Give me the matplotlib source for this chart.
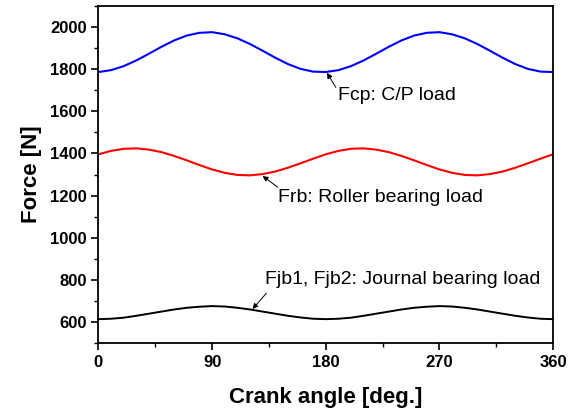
import numpy as np
import matplotlib.pyplot as plt
from matplotlib.ticker import MultipleLocator

plt.rcParams['font.family'] = ['Liberation Sans', 'DejaVu Sans']

# crank angle, every 10 degrees
angle = np.arange(0, 361, 10)

# Fcp: C/P load
f_cp_half = [1786, 1795, 1814, 1841, 1873, 1906, 1936, 1959, 1972, 1975,
             1965, 1946, 1919, 1887, 1854, 1824, 1801, 1788]
f_cp = f_cp_half + f_cp_half + [1786]

# Frb: roller bearing load
f_rb_half = [1396, 1412, 1422, 1424, 1418, 1406, 1388, 1367, 1345, 1324,
             1308, 1298, 1296, 1302, 1314, 1332, 1353, 1375]
f_rb = f_rb_half + f_rb_half + [1396]

# Fjb1, Fjb2: journal bearing load
f_jb_half = [614, 616, 621, 630, 640, 650, 660, 668, 673, 676,
             674, 668, 660, 650, 640, 630, 622, 616]
f_jb = f_jb_half + f_jb_half + [614]

fig = plt.figure(figsize=(5.69, 4.16), dpi=100)
ax = fig.add_axes([0.173, 0.175, 0.799, 0.811])

ax.plot(angle, f_cp, color='blue', lw=1.5)
ax.plot(angle, f_rb, color='red', lw=1.5)
ax.plot(angle, f_jb, color='black', lw=1.4)

ax.set_xlim(0, 360)
ax.set_ylim(500, 2100)
ax.set_xticks([0, 90, 180, 270, 360])
ax.xaxis.set_minor_locator(MultipleLocator(45))
ax.set_yticks(np.arange(600, 2001, 200))
ax.yaxis.set_minor_locator(MultipleLocator(100))
ax.tick_params(which='major', direction='out', length=5, width=1.2, labelsize=12)
ax.tick_params(which='minor', direction='out', length=3, width=1.0)
for lab in ax.get_xticklabels() + ax.get_yticklabels():
    lab.set_fontweight('bold')
ax.tick_params(top=False, right=False, which='both')
for sp in ax.spines.values():
    sp.set_linewidth(1.3)

ax.set_xlabel('Crank angle [deg.]', fontsize=16, fontweight='bold', labelpad=12)
ax.set_ylabel('Force [N]', fontsize=16, fontweight='bold', labelpad=6)

arrow = dict(arrowstyle='-|>', color='black', lw=0.7, mutation_scale=8, shrinkA=0, shrinkB=0)
ax.annotate('', xy=(181, 1782), xytext=(188, 1713), arrowprops=arrow)
ax.text(190, 1677, 'Fcp: C/P load', fontsize=14, ha='left', va='center')
ax.annotate('', xy=(130, 1293), xytext=(142, 1240), arrowprops=arrow)
ax.text(142, 1190, 'Frb: Roller bearing load', fontsize=14, ha='left', va='center')
ax.annotate('', xy=(122, 662), xytext=(133, 737), arrowprops=arrow)
ax.text(132, 800, 'Fjb1, Fjb2: Journal bearing load', fontsize=14, ha='left', va='center')

fig.savefig('out.png', dpi=100)
